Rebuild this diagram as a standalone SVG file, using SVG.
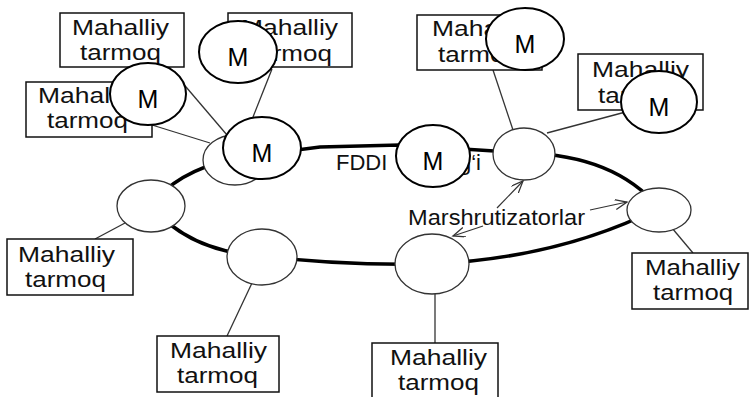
<svg xmlns="http://www.w3.org/2000/svg" width="750" height="397" viewBox="0 0 750 397">
<style>
.bg{fill:#fff}
.box{fill:#fff;stroke:#111;stroke-width:1.5}
.bt{font-family:"Liberation Sans",Arial,sans-serif;font-size:22px;fill:#111}
.router{fill:#fff;stroke:#333;stroke-width:1.3}
.mc{fill:#fff;stroke:#000;stroke-width:2}
.mt{font-family:"Liberation Sans",Arial,sans-serif;font-size:25px;fill:#000;text-anchor:middle}
.ring{fill:none;stroke:#000;stroke-width:3.5}
.thin{fill:none;stroke:#333;stroke-width:1.3}
.arr{fill:none;stroke:#333;stroke-width:1.2;marker-end:url(#ah)}
</style>
<defs>
<marker id="ah" markerUnits="userSpaceOnUse" markerWidth="14" markerHeight="12" refX="12" refY="5" orient="auto">
<path d="M0,0 L12,5 L0,10" fill="none" stroke="#333" stroke-width="1.3"/>
</marker>
</defs>
<rect class="bg" x="0" y="0" width="750" height="397"/>
<g id="connectors">
<path class="ring" d="M 151,206 Q 175,172 235,158 L 320,147 L 400,145 L 524,153 Q 615,155 659,208 Q 560,258 432,264 Q 345,266 262,256 Q 190,252 151,206 Z"/>
<line class="thin" x1="169" y1="67" x2="227" y2="135"/>
<line class="thin" x1="152" y1="125" x2="210" y2="143"/>
<line class="thin" x1="272" y1="69" x2="253" y2="117"/>
<line class="thin" x1="493" y1="70" x2="513" y2="130"/>
<line class="thin" x1="633" y1="110" x2="547" y2="133"/>
<line class="thin" x1="672" y1="228" x2="693" y2="253"/>
<line class="thin" x1="435" y1="294" x2="435" y2="343"/>
<line class="thin" x1="252" y1="283" x2="227" y2="336"/>
<line class="thin" x1="125" y1="223" x2="95" y2="239"/>
<line class="arr" x1="497" y1="208" x2="523" y2="181"/>
<line class="arr" x1="483" y1="226" x2="453" y2="236"/>
<line class="arr" x1="590" y1="210" x2="627" y2="202"/>
</g>
<g id="box1"><rect class="box" x="60" y="13" width="124" height="54"/><text class="bt" x="72" y="35" textLength="97" lengthAdjust="spacingAndGlyphs">Mahalliy</text><text class="bt" x="80" y="60" textLength="81" lengthAdjust="spacingAndGlyphs">tarmoq</text></g>
<g id="box3"><rect class="box" x="228" y="13" width="124" height="54"/><text class="bt" x="241" y="35" textLength="97" lengthAdjust="spacingAndGlyphs">Mahalliy</text><text class="bt" x="251" y="61" textLength="81" lengthAdjust="spacingAndGlyphs">tarmoq</text></g>
<g id="box2"><rect class="box" x="26" y="82" width="126" height="55"/><text class="bt" x="38" y="103" textLength="97" lengthAdjust="spacingAndGlyphs">Mahalliy</text><text class="bt" x="47" y="128" textLength="81" lengthAdjust="spacingAndGlyphs">tarmoq</text></g>
<g id="box4"><rect class="box" x="417" y="15" width="125" height="55"/><text class="bt" x="432" y="36" textLength="97" lengthAdjust="spacingAndGlyphs">Mahalliy</text><text class="bt" x="438" y="62" textLength="81" lengthAdjust="spacingAndGlyphs">tarmoq</text></g>
<g id="box5"><rect class="box" x="578" y="54" width="125" height="56"/><text class="bt" x="592" y="77" textLength="97" lengthAdjust="spacingAndGlyphs">Mahalliy</text><text class="bt" x="598" y="103" textLength="81" lengthAdjust="spacingAndGlyphs">tarmoq</text></g>
<g id="box6"><rect class="box" x="7" y="239" width="126" height="56"/><text class="bt" x="18" y="262" textLength="97" lengthAdjust="spacingAndGlyphs">Mahalliy</text><text class="bt" x="25" y="287" textLength="81" lengthAdjust="spacingAndGlyphs">tarmoq</text></g>
<g id="box7"><rect class="box" x="157" y="336" width="122" height="56"/><text class="bt" x="170" y="358" textLength="97" lengthAdjust="spacingAndGlyphs">Mahalliy</text><text class="bt" x="177" y="383" textLength="81" lengthAdjust="spacingAndGlyphs">tarmoq</text></g>
<g id="box8"><rect class="box" x="372" y="343" width="126" height="56"/><text class="bt" x="390" y="365" textLength="97" lengthAdjust="spacingAndGlyphs">Mahalliy</text><text class="bt" x="398" y="390" textLength="81" lengthAdjust="spacingAndGlyphs">tarmoq</text></g>
<g id="box9"><rect class="box" x="632" y="253" width="116" height="56"/><text class="bt" x="645" y="275" textLength="95" lengthAdjust="spacingAndGlyphs">Mahalliy</text><text class="bt" x="653" y="300" textLength="80" lengthAdjust="spacingAndGlyphs">tarmoq</text></g>
<g id="router-tl"><ellipse class="router" cx="235" cy="160" rx="32" ry="25"/></g>
<g id="router-tr"><ellipse class="router" cx="524" cy="154" rx="31" ry="26"/></g>
<g id="router-l"><ellipse class="router" cx="151" cy="206" rx="34" ry="26"/></g>
<g id="router-bl"><ellipse class="router" cx="262" cy="257" rx="35" ry="28"/></g>
<g id="router-bm"><ellipse class="router" cx="432" cy="264" rx="37" ry="30"/></g>
<g id="router-r"><ellipse class="router" cx="659" cy="210" rx="32" ry="22"/></g>
<g id="label-fddi"><text class="bt" x="336" y="170">FDDI</text><text class="bt" x="459" y="170">g‘i</text></g>
<g id="label-routers"><text class="bt" x="408" y="225" textLength="177" lengthAdjust="spacingAndGlyphs">Marshrutizatorlar</text></g>
<g id="m1"><ellipse class="mc" cx="238" cy="52" rx="39" ry="31"/><text class="mt" x="238" y="66">M</text></g>
<g id="m2"><ellipse class="mc" cx="148" cy="94" rx="38" ry="31"/><text class="mt" x="148" y="108">M</text></g>
<g id="m3"><ellipse class="mc" cx="262" cy="148" rx="39" ry="31"/><text class="mt" x="262" y="162">M</text></g>
<g id="m4"><ellipse class="mc" cx="433" cy="156" rx="37" ry="31"/><text class="mt" x="433" y="170">M</text></g>
<g id="m5"><ellipse class="mc" cx="525" cy="39" rx="39" ry="31"/><text class="mt" x="525" y="53">M</text></g>
<g id="m6"><ellipse class="mc" cx="659" cy="102" rx="38" ry="31"/><text class="mt" x="659" y="116">M</text></g>
</svg>
